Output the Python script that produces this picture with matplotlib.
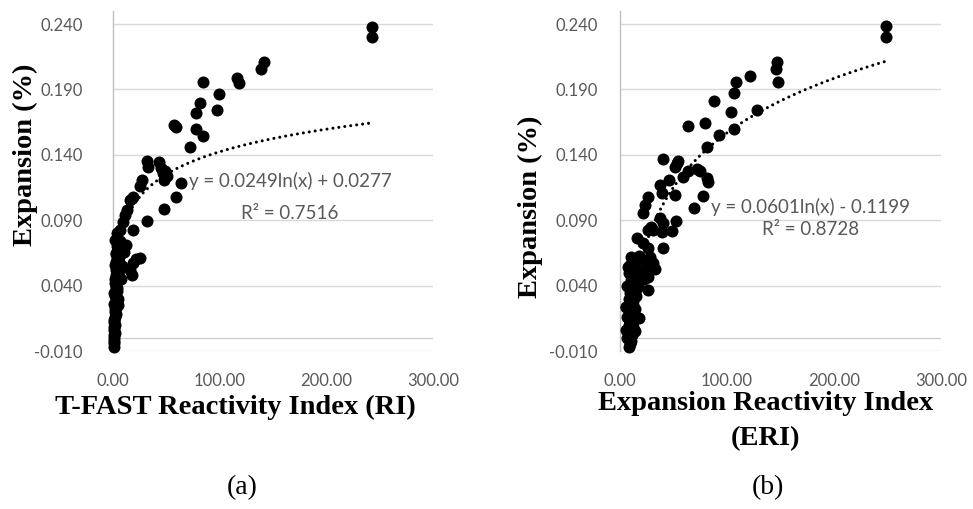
import numpy as np
import matplotlib
matplotlib.use("Agg")
from matplotlib import pyplot as plt

# ---- data ----
# (a) T-FAST reactivity index vs expansion
ri_x = [0.5, 0.8, 1.0, 1.2, 0.6, 1.5, 0.9, 1.1, 2.0, 1.3, 0.7, 1.8, 2.5, 1.6, 2.2, 3.0, 1.4,
        2.8, 3.5, 2.0, 1.0, 4.0, 2.6, 3.2, 1.9, 4.5, 3.8, 2.4, 5.0, 3.0, 4.2, 1.5, 5.5, 3.6,
        6.0, 2.8, 4.8, 6.5, 3.4, 5.2, 7.0, 2.2, 4.0, 6.0, 3.0, 8.0, 5.0, 2.5, 7.5, 4.5,
        242.4, 242.4, 141.5, 138.7, 116.0, 118.0, 99.6, 97.8, 84.6, 81.5, 77.8, 77.8, 84.0,
        72.2, 57.5, 59.0, 31.6, 33.0, 43.4, 45.0, 47.0, 49.0, 51.0, 48.0, 63.4, 59.0, 47.8,
        32.2, 26.9, 25.3, 19.0, 16.0, 12.8, 11.2, 9.7, 6.6, 18.4, 3.5, 1.9, 25.3, 19.0, 17.5,
        16.0, 22.0, 10.0, 12.0]
ri_y = [-0.007, -0.004, -0.002, 0.000, 0.002, 0.004, 0.006, 0.008, 0.010, 0.012, 0.014,
        0.016, 0.018, 0.020, 0.022, 0.024, 0.026, 0.028, 0.030, 0.032, 0.034, 0.036, 0.038,
        0.040, 0.042, 0.044, 0.046, 0.048, 0.050, 0.052, 0.054, 0.056, 0.058, 0.060, 0.062,
        0.064, 0.066, 0.068, 0.070, 0.072, 0.074, 0.045, 0.038, 0.052, 0.058, 0.055, 0.030,
        0.065, 0.045, 0.025,
        0.238, 0.230, 0.211, 0.206, 0.199, 0.195, 0.1865, 0.174, 0.196, 0.180, 0.172, 0.160,
        0.1547, 0.146, 0.1626, 0.161, 0.1353, 0.131, 0.1349, 0.1297, 0.126, 0.128, 0.124,
        0.121, 0.1188, 0.1075, 0.0986, 0.0897, 0.121, 0.116, 0.108, 0.1055, 0.098, 0.094,
        0.089, 0.0826, 0.0826, 0.080, 0.075, 0.061, 0.057, 0.048, 0.052, 0.060, 0.066, 0.071]

# (b) expansion reactivity index vs expansion
eri_x = [8, 9, 10, 7, 11, 9, 6, 12, 8, 10, 13, 7, 9, 11, 14, 6, 10, 12, 8, 15, 9, 13, 11, 7,
         16, 10, 12, 14, 8, 17, 11, 9, 13, 15, 10, 12, 18, 14, 9, 16, 11, 13, 6, 15, 10,
         249.0, 249.0, 147.0, 145.8, 148.0, 121.5, 108.0, 106.8, 103.7, 106.5, 128.3, 88.0,
         79.4, 92.8, 81.0, 74.8, 81.0, 82.5, 77.9, 63.8, 71.7, 69.5, 39.9, 53.0, 54.5, 51.4,
         63.8, 59.0, 46.0, 37.4, 39.0, 51.4, 26.5, 23.4, 21.8, 37.4, 40.5, 52.3, 28.7, 30.5,
         26.5, 39.0, 48.3, 15.6, 21.8, 26.5, 40.5, 18.0, 20.0, 28.0, 31.0, 32.7, 25.0, 26.5,
         7.8, 26.5, 20.0, 22.0, 17.0]
eri_y = [-0.007, -0.005, -0.002, 0.000, 0.002, 0.004, 0.006, 0.008, 0.010, 0.012, 0.014,
         0.016, 0.018, 0.020, 0.022, 0.024, 0.026, 0.028, 0.030, 0.032, 0.034, 0.036, 0.038,
         0.040, 0.042, 0.044, 0.046, 0.048, 0.050, 0.052, 0.054, 0.056, 0.058, 0.045, 0.035,
         0.025, 0.015, 0.005, 0.012, 0.038, 0.028, 0.050, 0.024, 0.060, 0.062,
         0.2385, 0.230, 0.211, 0.206, 0.1955, 0.200, 0.196, 0.187, 0.173, 0.160, 0.1743,
         0.181, 0.164, 0.155, 0.146, 0.128, 0.122, 0.119, 0.1086, 0.162, 0.129, 0.099,
         0.1366, 0.1335, 0.135, 0.131, 0.128, 0.123, 0.121, 0.117, 0.1106, 0.1093, 0.1075,
         0.1017, 0.0953, 0.0915, 0.0877, 0.0897, 0.085, 0.0826, 0.0826, 0.0813, 0.082,
         0.0762, 0.0724, 0.0686, 0.0686, 0.063, 0.060, 0.062, 0.057, 0.053, 0.0545, 0.0469,
         0.0545, 0.0367, 0.050, 0.045, 0.040]

# log trend lines as printed on the chart: y = a ln(x) + b
ri_fit = (0.0249, 0.0277)
eri_fit = (0.0601, -0.1199)
ri_eq = ["y = 0.0249ln(x) + 0.0277", "R² = 0.7516"]
eri_eq = ["y = 0.0601ln(x) - 0.1199", "R² = 0.8728"]

x_ticks = [0, 100, 200, 300]
y_ticks = [-0.010, 0.040, 0.090, 0.140, 0.190, 0.240]

SERIF = "Liberation Serif"
TICK_FONT = "Lato"
GRAY = "#595959"


def draw_panel(ax, xs, ys, fit, eq_lines, eq_pos, eq_gap, ytick_pad):
    ax.set_xlim(0, 300)
    ax.set_ylim(-0.010, 0.250)
    ax.set_xticks(x_ticks)
    ax.set_yticks(y_ticks)
    ax.set_xticklabels([f"{t:.2f}" for t in x_ticks], fontfamily=TICK_FONT, fontsize=12, color=GRAY)
    ax.set_yticklabels([f"{t:.3f}" for t in y_ticks], fontfamily=TICK_FONT, fontsize=12, color=GRAY)
    ax.tick_params(axis="both", length=0)
    ax.tick_params(axis="y", pad=ytick_pad)
    ax.tick_params(axis="x", pad=16)

    ax.grid(axis="y", color="#d9d9d9", linewidth=1.0)
    ax.set_axisbelow(True)
    for side in ("top", "right", "bottom"):
        ax.spines[side].set_visible(False)
    ax.spines["left"].set_color("#bfbfbf")
    ax.spines["left"].set_linewidth(1.0)
    ax.axhline(0, color="#d0d0d0", linewidth=1.0, zorder=0.5)

    ax.scatter(xs, ys, s=75, color="black", linewidths=0, zorder=3, clip_on=False)

    a, b = fit
    tx = np.linspace(min(xs), max(xs), 400)
    ax.plot(tx, a * np.log(tx) + b, color="black", linewidth=2.2,
            linestyle=(0, (0.01, 1.95)), dash_capstyle="round", zorder=2)

    ax.text(eq_pos[0], eq_pos[1], eq_lines[0], fontfamily=TICK_FONT, fontsize=13.5,
            color=GRAY, ha="center", va="center", zorder=4)
    ax.text(eq_pos[0], eq_pos[1] - eq_gap, eq_lines[1], fontfamily=TICK_FONT, fontsize=13.5,
            color=GRAY, ha="center", va="center", zorder=4)


fig = plt.figure(figsize=(9.73, 5.09), dpi=100)
ax1 = fig.add_axes([113 / 973, 1 - 351 / 509, 320 / 973, 340 / 509])
ax2 = fig.add_axes([620 / 973, 1 - 351 / 509, 321 / 973, 340 / 509])

draw_panel(ax1, ri_x, ri_y, ri_fit, ri_eq, (166, 0.120), 0.0245, 22)
draw_panel(ax2, eri_x, eri_y, eri_fit, eri_eq, (178, 0.1003), 0.0176, 16)

fig.text(25 / 973, 1 - 155 / 509, "Expansion (%)", rotation=90, ha="center", va="center",
         fontfamily=SERIF, fontweight="bold", fontsize=20.5)
fig.text(530 / 973, 1 - 207 / 509, "Expansion (%)", rotation=90, ha="center", va="center",
         fontfamily=SERIF, fontweight="bold", fontsize=20.5)

fig.text(235 / 973, 1 - 407 / 509, "T-FAST Reactivity Index (RI)", ha="center", va="center",
         fontfamily=SERIF, fontweight="bold", fontsize=20.5)
fig.text(766 / 973, 1 - 403 / 509, "Expansion Reactivity Index", ha="center", va="center",
         fontfamily=SERIF, fontweight="bold", fontsize=20.5)
fig.text(766 / 973, 1 - 439 / 509, "(ERI)", ha="center", va="center",
         fontfamily=SERIF, fontweight="bold", fontsize=20.5)

fig.text(242 / 973, 1 - 488 / 509, "(a)", ha="center", va="center", fontfamily=SERIF, fontsize=20)
fig.text(768 / 973, 1 - 488 / 509, "(b)", ha="center", va="center", fontfamily=SERIF, fontsize=20)

fig.savefig("out.png", dpi=100)
